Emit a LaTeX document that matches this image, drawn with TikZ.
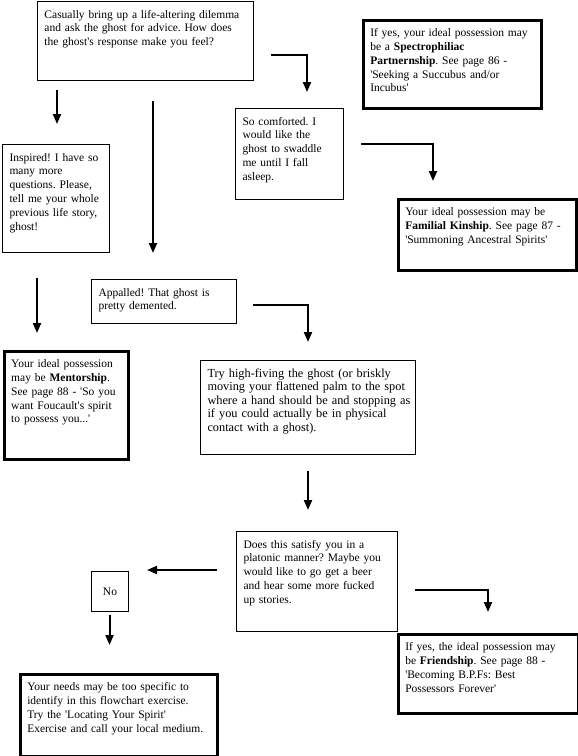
\documentclass[tikz,border=0pt]{standalone}
\usepackage{fontspec}
\setmainfont{Liberation Serif}[Ligatures=TeXOff]
\usetikzlibrary{arrows.meta}
\frenchspacing

\tikzset{
  box/.style 2 args={draw, line width=1pt, anchor=north west, inner xsep=7pt, inner ysep=7pt,
    text width=#1, text height=9.5pt, text depth=#2, font=\fontsize{11.5}{13.8}\selectfont},
  heavy/.style={line width=2.5pt},
  arr/.style={line width=2pt, -{Triangle[width=8pt,length=10pt]}}
}
\newcommand{\lines}[1]{\begin{tabular}[t]{@{}l@{}}#1\end{tabular}}

\begin{document}
\begin{tikzpicture}[x=1pt,y=-1pt]
\useasboundingbox (0,0) rectangle (578,756);
% the boxes:
\node [box={202pt}{55.5pt}] (q) at (37,1) {\lines{Casually bring up a life-altering dilemma\\and ask the ghost for advice. How does\\the ghost's response make you feel?}};
\node [box={164pt}{64.5pt},heavy] (spec) at (362,19) {\lines{If yes, your ideal possession may\\be a \textbf{Spectrophiliac}\\\textbf{Partnernship}. See page 86 -\\'Seeking a Succubus and/or\\Incubus'}};
\node [box={94pt}{67.5pt}] (com) at (235,108) {\lines{So comforted. I\\would like the\\ghost to swaddle\\me until I fall\\asleep.}};
\node [box={164pt}{47.5pt},heavy] (fam) at (397,198) {\lines{Your ideal possession may be\\\textbf{Familial Kinship}. See page 87 -\\'Summoning Ancestral Spirits'}};
\node [box={93pt}{84.5pt}] (ins) at (2,144) {\lines{Inspired! I have so\\many more\\questions. Please,\\tell me your whole\\previous life story,\\ghost!}};
\node [box={131pt}{20.5pt}] (app) at (91,279) {\lines{Appalled! That ghost is\\pretty demented.}};
\node [box={110pt}{84.5pt},heavy] (men) at (3,350) {\lines{Your ideal possession\\may be \textbf{Mentorship}.\\See page 88 - 'So you\\want Foucault's spirit\\to possess you...'}};
\node [box={201pt}{70.5pt},font=\fontsize{12.3}{13.6}\selectfont] (hig) at (200,360) {\lines{Try high-fiving the ghost (or briskly\\moving your flattened palm to the spot\\where a hand should be and stopping as\\if you could actually be in physical\\contact with a ghost).}};
\node [box={147pt}{76.5pt}] (pla) at (236,531) {\lines{Does this satisfy you in a\\platonic manner? Maybe you\\would like to go get a beer\\and hear some more fucked\\up stories.}};
\node [draw,line width=1pt,anchor=north west,minimum width=37pt,minimum height=40pt,inner sep=0pt,font=\fontsize{11.5}{13.8}\selectfont] (no) at (91,571) {No};
\node [box={183pt}{58.5pt},heavy] (nee) at (19,673) {\lines{Your needs may be too specific to\\identify in this flowchart exercise.\\Try the 'Locating Your Spirit'\\Exercise and call your local medium.}};
\node [box={166pt}{55.5pt},heavy] (fri) at (397,633) {\lines{If yes, the ideal possession may\\be \textbf{Friendship}. See page 88 -\\'Becoming B.P.Fs: Best\\Possessors Forever'}};
% arrow ends:
\coordinate (q1) at (57,90);   \coordinate (ins0) at (57,124);
\coordinate (q2) at (153,101); \coordinate (app0) at (153,253);
\coordinate (q3) at (271,55);  \coordinate (com0) at (307,92);
\coordinate (com1) at (361,144); \coordinate (fam0) at (433,181);
\coordinate (ins1) at (37,278); \coordinate (men0) at (37,333);
\coordinate (app1) at (253,305); \coordinate (hig0) at (308,342);
\coordinate (hig1) at (308,471); \coordinate (pla0) at (308,510);
\coordinate (pla1) at (217,570); \coordinate (no0) at (147,570);
\coordinate (pla2) at (415,590); \coordinate (fri0) at (488,612);
\coordinate (no1) at (109.5,615); \coordinate (nee0) at (109.5,645);
% the arrows:
\draw [arr] (q1) -- (ins0);
\draw [arr] (q2) -- (app0);
\draw [arr] (q3) -| (com0);
\draw [arr] (com1) -| (fam0);
\draw [arr] (ins1) -- (men0);
\draw [arr] (app1) -| (hig0);
\draw [arr] (hig1) -- (pla0);
\draw [arr] (pla1) -- (no0);
\draw [arr] (pla2) -| (fri0);
\draw [arr] (no1) -- (nee0);
\end{tikzpicture}
\end{document}
